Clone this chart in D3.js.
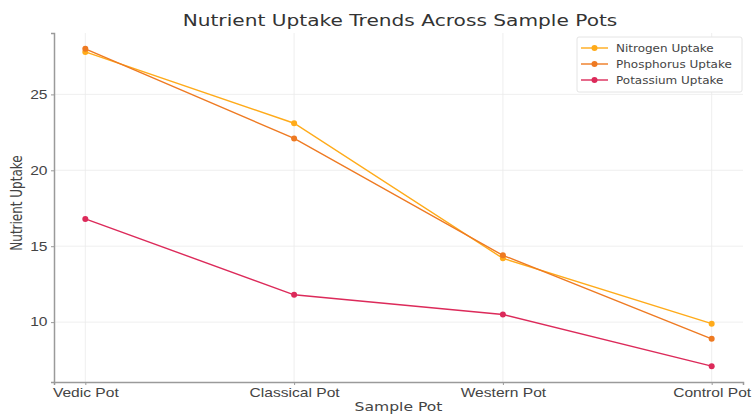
<!DOCTYPE html>
<html>
<head>
<meta charset="utf-8">
<script src="https://cdn.jsdelivr.net/npm/d3@7"></script>
<style>
  body { margin: 0; background: #fff; }
  svg { font-family: "DejaVu Sans", sans-serif; }
</style>
</head>
<body>
<svg id="chart" width="754" height="415"></svg>
<script>
var pots = ["Vedic Pot", "Classical Pot", "Western Pot", "Control Pot"];
var nitrogen = [27.8, 23.1, 14.2, 9.9];
var phosphorus = [28.0, 22.1, 14.4, 8.9];
var potassium = [16.8, 11.8, 10.5, 7.1];
var yTicks = [10, 15, 20, 25];

var series = [
    { name: "Nitrogen Uptake", values: nitrogen, color: "#ffab1a" },
    { name: "Phosphorus Uptake", values: phosphorus, color: "#ee7a22" },
    { name: "Potassium Uptake", values: potassium, color: "#dc2a5a" }
];

// the reference text is stretched sideways
var stretch = 1.3;

var svg = d3.select("svg#chart");
var margin = { left: 54, right: 11, top: 33, bottom: 33 },
    width = 754 - margin.left - margin.right,
    height = 415 - margin.top - margin.bottom;

var g = svg.append("g")
    .attr("transform", "translate(" + margin.left + "," + margin.top + ")");

var allVals = nitrogen.concat(phosphorus, potassium);
var lo = d3.min(allVals), hi = d3.max(allVals), pad = (hi - lo) * 0.05;

var x = d3.scaleLinear().domain([-0.15, pots.length - 1 + 0.15]).range([0, width]);
var y = d3.scaleLinear().domain([lo - pad, hi + pad]).range([height, 0]);

// grid
g.append("g").selectAll("line.gx")
    .data(pots)
    .enter().append("line")
    .attr("x1", (d, i) => x(i)).attr("x2", (d, i) => x(i))
    .attr("y1", 0).attr("y2", height)
    .attr("stroke", "#ebebeb").attr("stroke-width", 0.8);

g.append("g").selectAll("line.gy")
    .data(yTicks)
    .enter().append("line")
    .attr("x1", 0).attr("x2", width)
    .attr("y1", d => y(d)).attr("y2", d => y(d))
    .attr("stroke", "#ebebeb").attr("stroke-width", 0.8);

// axes
var xAxis = g.append("g")
    .attr("transform", "translate(0," + height + ")")
    .call(d3.axisBottom(x).tickValues(d3.range(pots.length)).tickFormat(i => pots[i]).tickSize(3).tickPadding(3));
var yAxis = g.append("g")
    .call(d3.axisLeft(y).tickValues(yTicks).tickSize(3).tickPadding(2));

[xAxis, yAxis].forEach(function(a) {
    a.select(".domain").attr("stroke", "#9a9a9a").attr("stroke-width", 1.5);
    a.selectAll(".tick line").attr("stroke", "#9a9a9a");
    a.selectAll(".tick text")
        .attr("fill", "#444")
        .style("font-size", "12px")
        .attr("transform", "scale(" + stretch + ",1)");
});

// lines
var line = d3.line().x((d, i) => x(i)).y(d => y(d));

series.forEach(function(s) {
    g.append("path")
        .datum(s.values)
        .attr("fill", "none")
        .attr("stroke", s.color)
        .attr("stroke-width", 1.4)
        .attr("d", line);
    g.selectAll(null)
        .data(s.values)
        .enter().append("circle")
        .attr("cx", (d, i) => x(i))
        .attr("cy", d => y(d))
        .attr("r", 3)
        .attr("fill", s.color);
});

// labels
svg.append("text")
    .attr("transform", "translate(400,26) scale(" + stretch + ",1)")
    .attr("text-anchor", "middle")
    .attr("fill", "#333")
    .style("font-size", "15.5px")
    .text("Nutrient Uptake Trends Across Sample Pots");

svg.append("text")
    .attr("transform", "translate(" + (margin.left + x(1.5)) + ",411) scale(" + stretch + ",1)")
    .attr("text-anchor", "middle")
    .attr("fill", "#444")
    .style("font-size", "12px")
    .text("Sample Pot");

svg.append("text")
    .attr("transform", "translate(22,203) scale(" + stretch + ",1) rotate(-90)")
    .attr("text-anchor", "middle")
    .attr("fill", "#444")
    .style("font-size", "12px")
    .text("Nutrient Uptake");

// legend
var legend = svg.append("g").attr("transform", "translate(577,37)");
legend.append("rect")
    .attr("width", 165).attr("height", 55)
    .attr("fill", "#fff").attr("stroke", "#e4e4e4").attr("rx", 2);

var items = legend.selectAll("g.item")
    .data(series)
    .enter().append("g")
    .attr("transform", (d, i) => "translate(0," + (11 + i * 16) + ")");
items.append("line")
    .attr("x1", 4).attr("x2", 31)
    .attr("stroke", d => d.color).attr("stroke-width", 1.4);
items.append("circle")
    .attr("cx", 17.5).attr("r", 3).attr("fill", d => d.color);
items.append("text")
    .attr("transform", "translate(39,3.5) scale(1.2,1)")
    .attr("fill", "#444")
    .style("font-size", "10px")
    .text(d => d.name);
</script>
</body>
</html>
